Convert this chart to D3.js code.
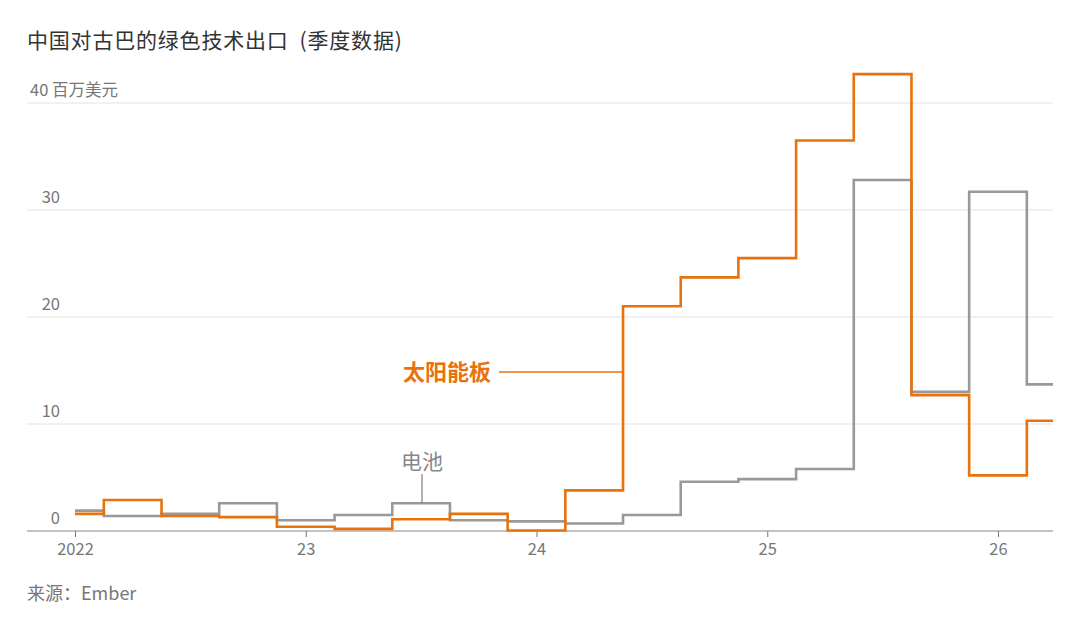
<!DOCTYPE html>
<html><head><meta charset="utf-8">
<script src="https://cdn.jsdelivr.net/npm/d3@7"></script>
<style>
html,body{margin:0;padding:0;background:#fff;}
svg{display:block;font-family:"Noto Sans CJK SC","Noto Sans",sans-serif;}
</style></head>
<body><svg id="c" width="1080" height="621"></svg>
<script>
const quarters = ["2022Q1","2022Q2","2022Q3","2022Q4","2023Q1","2023Q2","2023Q3","2023Q4","2024Q1","2024Q2","2024Q3","2024Q4","2025Q1","2025Q2","2025Q3","2025Q4","2026Q1","2026Q2"];
const solar = [1.6,2.9,1.4,1.3,0.4,0.2,1.1,1.6,0.05,3.8,21.0,23.7,25.5,36.5,42.7,12.7,5.2,10.3];
const battery = [1.9,1.4,1.6,2.6,1.0,1.5,2.6,1.0,0.9,0.7,1.5,4.6,4.85,5.8,32.8,13.0,31.7,13.7];
const yTicks = [0,10,20,30,40];
const xTicks = [2022,2023,2024,2025,2026];
const xTickLabels = ["2022","23","24","25","26"];

const svg = d3.select("#c");
const left = 27, right = 1053;
const qx = q => +q.slice(0,4) + (+q.slice(5)-1)/4;
const x = d3.scaleLinear().domain([2022,2026]).range([75,998]);
const y = d3.scaleLinear().domain([0,40]).range([531,103]);

// title
svg.append("text").attr("x",27).attr("y",48).attr("font-size",21).attr("letter-spacing",0.8).attr("fill","#333").attr("xml:space","preserve").style("white-space","pre").text("中国对古巴的绿色技术出口  (季度数据)");

// grid
svg.append("g").selectAll("line").data(yTicks.filter(d=>d>0)).join("line")
  .attr("x1",left).attr("x2",right).attr("y1",d=>y(d)).attr("y2",d=>y(d))
  .attr("stroke","#e3e3e3").attr("stroke-width",1);

// y labels
svg.append("g").selectAll("text").data(yTicks).join("text")
  .attr("x",d=>d===40?30:60).attr("y",d=>y(d)-7)
  .attr("text-anchor",d=>d===40?"start":"end")
  .attr("font-size",16.5).attr("fill","#777")
  .text(d=>d===40?"40 百万美元":d);

// x axis
const xa = svg.append("g").attr("transform","translate(0,531)")
  .call(d3.axisBottom(x).tickValues(xTicks).tickFormat((d,i)=>xTickLabels[i]).tickSize(6).tickPadding(6));
xa.select(".domain").remove();
xa.selectAll("line").attr("stroke","#777");
xa.selectAll("text").attr("font-size",16.5).attr("fill","#777").attr("font-family","'Noto Sans CJK SC','Noto Sans',sans-serif");
svg.append("line").attr("x1",left).attr("x2",right).attr("y1",531).attr("y2",531).attr("stroke","#888").attr("stroke-width",1.2);

svg.append("clipPath").attr("id","clip").append("rect").attr("x",0).attr("y",0).attr("width",right).attr("height",621);

const line = d3.line().x((d,i)=>x(qx(quarters[i]))).y(d=>y(d)).curve(d3.curveStep);
svg.append("path").datum(battery).attr("d",line).attr("fill","none").attr("stroke","#999").attr("stroke-width",2.6).attr("clip-path","url(#clip)");
svg.append("path").datum(solar).attr("d",line).attr("fill","none").attr("stroke","#e8720c").attr("stroke-width",2.6).attr("clip-path","url(#clip)");

// annotations
const solarX = (x(qx("2024Q2"))+x(qx("2024Q3")))/2;
svg.append("text").attr("x",403).attr("y",380).attr("font-size",22).attr("font-weight","bold").attr("fill","#e8720c").text("太阳能板");
svg.append("line").attr("x1",499).attr("x2",solarX).attr("y1",372).attr("y2",372).attr("stroke","#e8720c").attr("stroke-width",1.3);

svg.append("text").attr("x",422).attr("y",469).attr("text-anchor","middle").attr("font-size",21).attr("fill","#888").text("电池");
svg.append("line").attr("x1",422).attr("x2",422).attr("y1",474).attr("y2",y(battery[6])).attr("stroke","#888").attr("stroke-width",1.3);

// source
svg.append("text").attr("x",27).attr("y",600).attr("font-size",18).attr("fill","#777").text("来源：Ember");
</script></body></html>
